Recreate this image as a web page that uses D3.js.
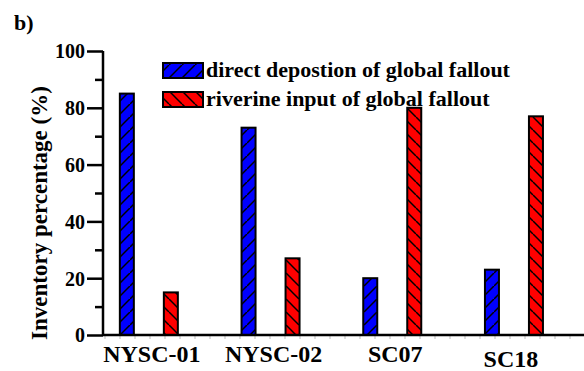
<!DOCTYPE html>
<html>
<head>
<meta charset="utf-8">
<script src="https://cdn.jsdelivr.net/npm/d3@7"></script>
<style>
  html, body { margin: 0; padding: 0; background: #fff; }
  svg { display: block; }
  svg text { font-family: 'Liberation Serif', 'Tinos', 'Times New Roman', Times, 'Nimbus Roman', 'DejaVu Serif', serif !important; font-weight: 700; fill: #000; }
</style>
</head>
<body>
<svg id="chart" width="584" height="371"></svg>
<script>
// Sample cores and the two fallout sources
const categories = ["NYSC-01", "NYSC-02", "SC07", "SC18"];
const seriesNames = ["direct depostion of global fallout", "riverine input of global fallout"];
const directDeposition = [85, 73, 20, 23];
const riverineInput = [15, 27, 80, 77];
const seriesValues = [directDeposition, riverineInput];
const seriesColors = ["#0000ff", "#ff0000"];
const yTicks = [0, 20, 40, 60, 80, 100];
const yMinorTicks = [10, 30, 50, 70, 90];

const FONT = "'Liberation Serif', 'Tinos', 'Times New Roman', Times, serif";
const svg = d3.select("#chart");
const W = 584, H = 371;
const axisX = 103, baseY = 335, topY = 51;

// Hatch patterns: "/" for direct deposition, "\" for riverine input
const defs = svg.append("defs");
function hatch(id, color, forward) {
  const s = 13;
  const p = defs.append("pattern")
    .attr("id", id).attr("patternUnits", "userSpaceOnUse")
    .attr("width", s).attr("height", s);
  p.append("rect").attr("width", s).attr("height", s).attr("fill", color);
  const segs = forward
    ? [[0, s, s, 0], [-s, s, 0, 0], [s, s * 2, s * 2, s]]
    : [[0, 0, s, s], [-s, 0, 0, s], [s, 0, s * 2, s]];
  segs.forEach(([x1, y1, x2, y2]) => p.append("line")
    .attr("x1", x1).attr("y1", y1).attr("x2", x2).attr("y2", y2)
    .attr("stroke", "#000").attr("stroke-width", 1.5));
}
hatch("hatch0", seriesColors[0], true);
hatch("hatch1", seriesColors[1], false);

// Scales
const x0 = d3.scaleBand().domain(categories).range([88, 88 + 4 * 121.7]);
const x1 = d3.scalePoint().domain(seriesNames).range([-22, 22]);
const y = d3.scaleLinear().domain([0, 100]).range([baseY, topY]);
const barW = 14;

// Bars
seriesNames.forEach((name, si) => {
  svg.append("g").selectAll("rect")
    .data(categories.map((c, i) => ({ c, v: seriesValues[si][i] })))
    .join("rect")
    .attr("x", d => x0(d.c) + x0.bandwidth() / 2 + x1(name) - barW / 2)
    .attr("y", d => y(d.v))
    .attr("width", barW)
    .attr("height", d => y(0) - y(d.v))
    .attr("fill", `url(#hatch${si})`)
    .attr("stroke", "#000")
    .attr("stroke-width", 2);
});

// Faint minor ticks under the category axis
svg.append("g").selectAll("line")
  .data(d3.range(axisX + 2, W, 15))
  .join("line")
  .attr("x1", d => d).attr("x2", d => d)
  .attr("y1", baseY).attr("y2", baseY + 4)
  .attr("stroke", "#bbb").attr("stroke-width", 1);

// Y axis with major and minor ticks
const yAxis = svg.append("g").attr("transform", `translate(${axisX},0)`)
  .call(d3.axisLeft(y).tickValues(yTicks).tickSize(16).tickPadding(2).tickFormat(d3.format("d")));
yAxis.attr("font-family", FONT);
yAxis.select(".domain").attr("stroke-width", 2.5).attr("d", `M0,${baseY}V${topY}`);
yAxis.selectAll(".tick line").attr("stroke-width", 2.5);
yAxis.selectAll(".tick text").style("font-size", "20px").style("font-family", FONT).attr("dy", "0.34em");
const yMinor = svg.append("g").attr("transform", `translate(${axisX},0)`)
  .call(d3.axisLeft(y).tickValues(yMinorTicks).tickSize(8).tickFormat(""));
yMinor.select(".domain").remove();
yMinor.selectAll(".tick line").attr("stroke-width", 2.5);

// X axis
const xAxis = svg.append("g").attr("transform", `translate(0,${baseY})`)
  .call(d3.axisBottom(x0).tickSize(0).tickPadding(0));
xAxis.attr("font-family", FONT);
xAxis.select(".domain").attr("d", `M${axisX},0H${W}`).attr("stroke-width", 2.5);
xAxis.selectAll(".tick text")
  .style("font-size", "24px")
  .style("font-family", FONT)
  .attr("dy", null)
  .attr("dx", (d, i) => i < 3 ? 3 : -3)
  .attr("y", (d, i) => i < 3 ? 27 : 32);

// Axis title
svg.append("text")
  .attr("transform", "translate(47,213) rotate(-90)")
  .attr("text-anchor", "middle")
  .style("font-family", FONT)
  .style("font-size", "23px")
  .text("Inventory percentage (%)");

// Panel label
svg.append("text").attr("x", 14).attr("y", 30)
  .style("font-family", FONT).style("font-size", "22px").text("b)");

// Legend
const legend = svg.append("g");
seriesNames.forEach((name, si) => {
  const ly = 63 + si * 29;
  legend.append("rect")
    .attr("x", 163).attr("y", ly).attr("width", 40).attr("height", 15)
    .attr("fill", `url(#hatch${si})`).attr("stroke", "#000").attr("stroke-width", 2);
  legend.append("text")
    .attr("x", 206).attr("y", ly + 14)
    .style("font-family", FONT)
    .style("font-size", "22px")
    .text(name);
});
</script>
</body>
</html>
